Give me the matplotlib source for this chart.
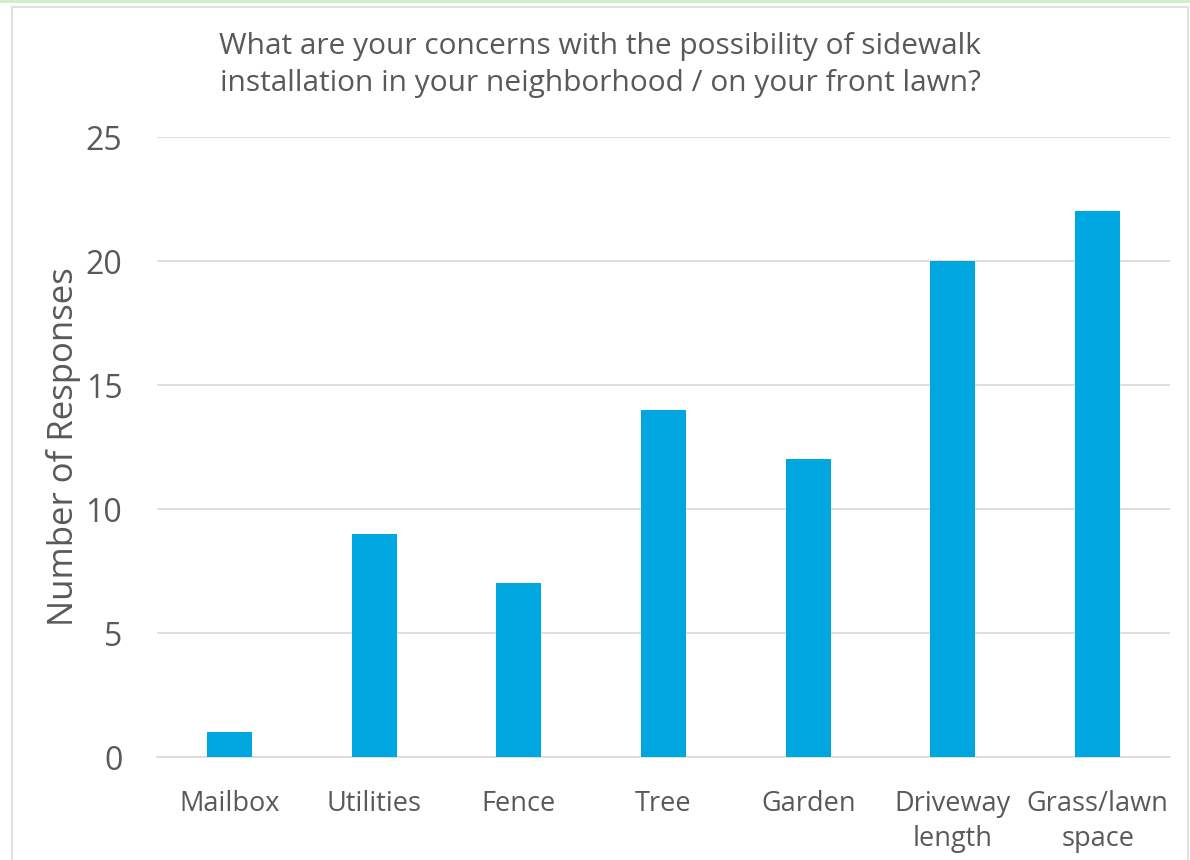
import matplotlib
matplotlib.use("Agg")
import matplotlib.pyplot as plt
from matplotlib.patches import Rectangle
from matplotlib.lines import Line2D

categories = ["Mailbox", "Utilities", "Fence", "Tree", "Garden",
              "Driveway\nlength", "Grass/lawn\nspace"]
responses = [1, 9, 7, 14, 12, 20, 22]
y_ticks = [0, 5, 10, 15, 20, 25]

title = ("What are your concerns with the possibility of sidewalk\n"
         "installation in your neighborhood / on your front lawn?")
y_label = "Number of Responses"

plt.rcParams["font.family"] = ["Open Sans", "DejaVu Sans"]
text_color = "#595959"
bar_color = "#00A6DF"
grid_color = "#D9D9D9"

W, H, DPI = 1190, 860, 100
fig = plt.figure(figsize=(W / DPI, H / DPI), dpi=DPI)
fig.patch.set_facecolor("white")

# outer frame and top accent line
fig.add_artist(Rectangle((12 / W, -0.01), (1188 - 12) / W, 1 - 7 / H + 0.01,
                         transform=fig.transFigure, fill=False,
                         edgecolor="#E0E0E0", linewidth=1.5))
fig.add_artist(Line2D([0, 1], [1 - 1 / H, 1 - 1 / H], transform=fig.transFigure,
                      color="#C8F0C8", linewidth=2))

left, right = 157 / W, 1170 / W
bottom, top = 1 - 757 / H, 1 - 137 / H
ax = fig.add_axes([left, bottom, right - left, top - bottom])

x = range(len(categories))
ax.bar(x, responses, width=0.31, color=bar_color, zorder=3)

ax.set_xlim(-0.5, len(categories) - 0.5)
ax.set_ylim(0, 25)
ax.set_yticks(y_ticks)
ax.set_xticks(list(x))
ax.set_xticklabels(categories, fontsize=19.5, color=text_color, linespacing=1.3)
ax.set_yticklabels([str(v) for v in y_ticks], fontsize=23, color=text_color)
ax.tick_params(axis="both", length=0)
ax.tick_params(axis="y", pad=25)
ax.tick_params(axis="x", pad=24)

ax.yaxis.grid(True, color=grid_color, linewidth=1.2, zorder=0)
for s in ["left", "right", "top"]:
    ax.spines[s].set_visible(False)
ax.spines["bottom"].set_color(grid_color)
ax.spines["bottom"].set_linewidth(1.2)

ax.set_ylabel(y_label, fontsize=25, color=text_color, labelpad=3)

fig.text(600 / W, 1 - 65 / H, title, ha="center", va="center",
         fontsize=21.5, color=text_color, linespacing=1.35)

fig.savefig("out.png", dpi=DPI)
